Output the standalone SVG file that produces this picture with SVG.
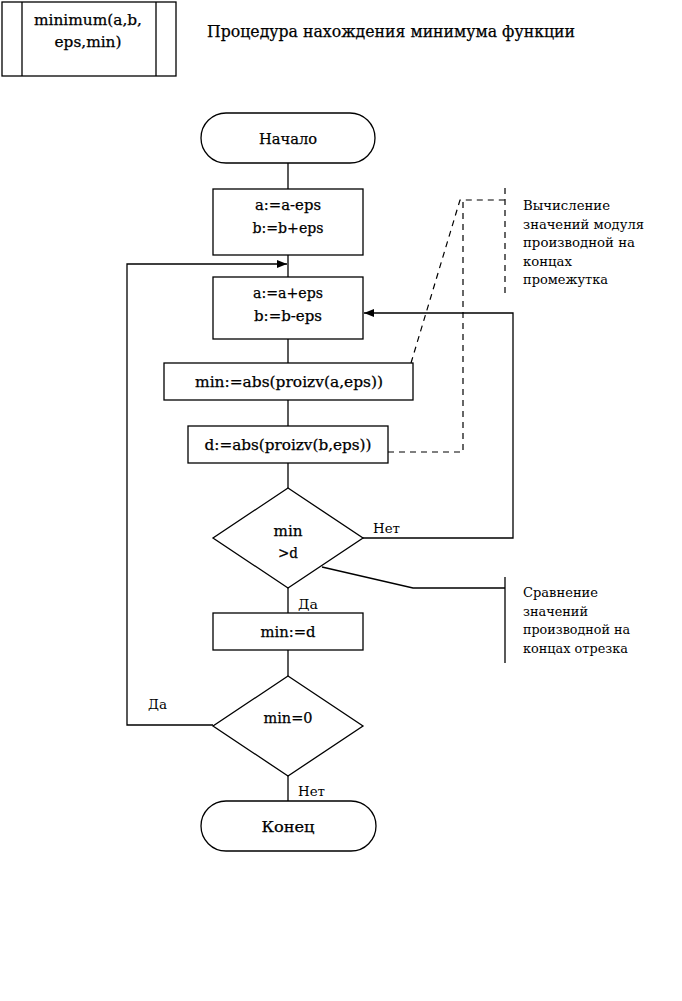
<svg xmlns="http://www.w3.org/2000/svg" width="682" height="1001" viewBox="0 0 682 1001">
<style>
.s{fill:#fff;stroke:#000;stroke-width:1.3}
text{font-family:"DejaVu Serif",serif;fill:#000}
.t{font-size:15px;text-anchor:middle;stroke:#000;stroke-width:0.25}
.a{font-size:13px}
.l{fill:none;stroke:#000;stroke-width:1.3}
.d{fill:none;stroke:#000;stroke-width:1.2;stroke-dasharray:6,5}
</style>
<defs>
<marker id="ar" markerWidth="10" markerHeight="8" refX="10" refY="4" orient="auto" markerUnits="userSpaceOnUse">
<path d="M0,0 L10,4 L0,8 Z" fill="#000"/>
</marker>
</defs>
<rect width="682" height="1001" fill="#fff"/>
<g id="header">
<rect class="s" x="2" y="2" width="174" height="74"/>
<line class="l" x1="22" y1="2" x2="22" y2="76"/>
<line class="l" x1="156" y1="2" x2="156" y2="76"/>
<text class="t" x="88" y="25" textLength="108" lengthAdjust="spacingAndGlyphs">minimum(a,b,</text>
<text class="t" x="88" y="47" textLength="67" lengthAdjust="spacingAndGlyphs">eps,min)</text>
<text x="207" y="37" font-size="16.5" stroke="#000" stroke-width="0.25" textLength="368" lengthAdjust="spacingAndGlyphs">Процедура нахождения минимума функции</text>
</g>
<g id="connectors">
<line class="l" x1="288" y1="163" x2="288" y2="189"/>
<line class="l" x1="288" y1="255" x2="288" y2="277"/>
<polyline class="l" points="213,725 127,725 127,264 287,264" marker-end="url(#ar)"/>
<line class="l" x1="288" y1="339" x2="288" y2="363"/>
<line class="l" x1="288" y1="400" x2="288" y2="426"/>
<line class="l" x1="288" y1="463" x2="288" y2="488"/>
<polyline class="l" points="363,538 513,538 513,313 364,313" marker-end="url(#ar)"/>
<line class="l" x1="288" y1="588" x2="288" y2="613"/>
<line class="l" x1="288" y1="650" x2="288" y2="676"/>
<line class="l" x1="288" y1="776" x2="288" y2="801"/>
<text class="a" x="373" y="533" textLength="27" lengthAdjust="spacingAndGlyphs">Нет</text>
<text class="a" x="298" y="609" textLength="20" lengthAdjust="spacingAndGlyphs">Да</text>
<text class="a" x="148" y="709" textLength="19" lengthAdjust="spacingAndGlyphs">Да</text>
<text class="a" x="298" y="796" textLength="27" lengthAdjust="spacingAndGlyphs">Нет</text>
</g>
<g id="start">
<rect class="s" x="201" y="113" width="174" height="50" rx="25" ry="25"/>
<text class="t" x="288" y="144" textLength="58" lengthAdjust="spacingAndGlyphs">Начало</text>
</g>
<g id="init">
<rect class="s" x="213" y="189" width="150" height="66"/>
<text class="t" x="288" y="210" textLength="66" lengthAdjust="spacingAndGlyphs">a:=a-eps</text>
<text class="t" x="288" y="233" textLength="71" lengthAdjust="spacingAndGlyphs">b:=b+eps</text>
</g>
<g id="step">
<rect class="s" x="213" y="277" width="150" height="62"/>
<text class="t" x="288" y="298" textLength="70" lengthAdjust="spacingAndGlyphs">a:=a+eps</text>
<text class="t" x="288" y="321" textLength="68" lengthAdjust="spacingAndGlyphs">b:=b-eps</text>
</g>
<g id="mincalc">
<rect class="s" x="164" y="363" width="249" height="37"/>
<text class="t" x="289" y="387" textLength="188" lengthAdjust="spacingAndGlyphs">min:=abs(proizv(a,eps))</text>
</g>
<g id="dcalc">
<rect class="s" x="188" y="426" width="200" height="37"/>
<text class="t" x="288" y="450" textLength="167" lengthAdjust="spacingAndGlyphs">d:=abs(proizv(b,eps))</text>
</g>
<g id="cmp">
<polygon class="s" points="288,488 363,538 288,588 213,538"/>
<text class="t" x="288" y="536" textLength="29" lengthAdjust="spacingAndGlyphs">min</text>
<text class="t" x="288" y="558" textLength="20" lengthAdjust="spacingAndGlyphs">&gt;d</text>
</g>
<g id="assign">
<rect class="s" x="213" y="613" width="150" height="37"/>
<text class="t" x="288" y="637" textLength="55" lengthAdjust="spacingAndGlyphs">min:=d</text>
</g>
<g id="zero">
<polygon class="s" points="288,676 363,726 288,776 213,726"/>
<text class="t" x="288" y="723" textLength="49" lengthAdjust="spacingAndGlyphs">min=0</text>
</g>
<g id="end">
<rect class="s" x="201" y="801" width="175" height="50" rx="25" ry="25"/>
<text class="t" x="288" y="832" textLength="53" lengthAdjust="spacingAndGlyphs">Конец</text>
</g>
<g id="note1">
<polyline class="d" points="411,363 460,200 505,200"/>
<polyline class="d" points="388,452 463,452 463,200"/>
<line class="d" x1="505" y1="188" x2="505" y2="297"/>
<text class="a" x="523" y="210" textLength="87" lengthAdjust="spacingAndGlyphs">Вычисление</text>
<text class="a" x="523" y="229" textLength="121" lengthAdjust="spacingAndGlyphs">значений модуля</text>
<text class="a" x="523" y="247" textLength="112" lengthAdjust="spacingAndGlyphs">производной на</text>
<text class="a" x="523" y="266" textLength="49" lengthAdjust="spacingAndGlyphs">концах</text>
<text class="a" x="523" y="284" textLength="85" lengthAdjust="spacingAndGlyphs">промежутка</text>
</g>
<g id="note2">
<polyline class="l" points="322,567 413,588 505,588"/>
<line class="l" x1="505" y1="577" x2="505" y2="663"/>
<text class="a" x="523" y="597" textLength="75" lengthAdjust="spacingAndGlyphs">Сравнение</text>
<text class="a" x="523" y="616" textLength="65" lengthAdjust="spacingAndGlyphs">значений</text>
<text class="a" x="523" y="634" textLength="107" lengthAdjust="spacingAndGlyphs">производной на</text>
<text class="a" x="523" y="653" textLength="105" lengthAdjust="spacingAndGlyphs">концах отрезка</text>
</g>
</svg>
